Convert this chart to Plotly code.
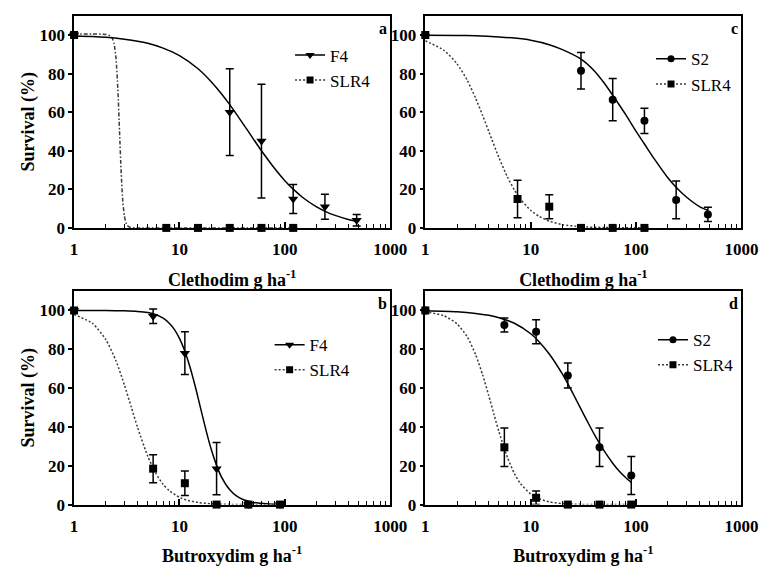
import plotly.graph_objects as go

FONT = "'Liberation Serif', 'Times New Roman', Times, serif"

# ---------------- data ----------------
cleth_doses = [1, 30, 60, 120, 240, 480]
cleth_slr_doses = [1, 7.5, 15, 30, 60, 120]
but_doses = [1, 5.625, 11.25, 22.5, 45, 90]

# panel a : clethodim, F4 vs SLR4
a_f4_surv = [100, 60, 45, 15, 11, 4]
a_f4_err = [0, 22.5, 29.5, 7.5, 6.5, 3]
a_slr_surv = [100, 0, 0, 0, 0, 0]
a_slr_err = [0, 0, 0, 0, 0, 0]
a_f4_fit_x = [1, 1.5, 2, 3, 4, 5, 7, 10, 15, 20, 25, 30, 40, 50, 60, 80, 100, 120, 150, 200, 250, 300, 400, 480]
a_f4_fit_y = [99.5, 99.2, 98.8, 97.8, 96.8, 95.7, 93.2, 89.3, 82.5, 75.8, 69.6, 63.9, 54.1, 46.3, 40.0, 30.8, 24.5, 20.1, 15.5, 10.9, 8.2, 6.5, 4.4, 3.4]
a_slr_fit_x = [1, 1.5, 2, 2.2, 2.3, 2.4, 2.5, 2.6, 2.7, 2.8, 2.9, 3.0, 3.1, 3.2, 3.4, 4, 7.5, 120]
a_slr_fit_y = [100.5, 100.5, 100.3, 99.5, 98.4, 95.3, 87.8, 72.4, 50, 28.3, 13.8, 6.3, 2.8, 1.3, 0.3, 0, 0, 0]

# panel c : clethodim, S2 vs SLR4
c_s2_surv = [100, 81.5, 66.5, 55.5, 14.5, 7]
c_s2_err = [0, 9.5, 11, 6.5, 9.8, 3.7]
c_slr_surv = [100, 15, 11, 0, 0, 0]
c_slr_err = [0, 9.7, 6.2, 0, 0, 0]
c_s2_fit_x = [1, 2, 3, 5, 7, 10, 15, 20, 30, 40, 50, 60, 80, 100, 120, 150, 200, 250, 300, 400, 480]
c_s2_fit_y = [99.9, 99.8, 99.6, 99.0, 98.4, 97.3, 95.0, 92.4, 87.5, 81.5, 75.0, 68.8, 58.6, 50.0, 43.5, 35.5, 26.0, 20.0, 16.0, 11.0, 9.0]
c_slr_fit_x = [1, 1.5, 2, 2.5, 3, 3.5, 4, 5, 6, 7, 8, 10, 12, 15, 20, 30, 50, 120]
c_slr_fit_y = [97.0, 92.1, 85.1, 76.5, 67.3, 58.3, 50.0, 36.4, 26.5, 19.7, 14.9, 9.1, 6.0, 3.5, 1.7, 0.6, 0.2, 0]

# panel b : butroxydim, F4 vs SLR4
b_f4_surv = [100, 97, 78, 18.5, 0, 0]
b_f4_err = [0, 3.7, 11, 13.5, 0, 0]
b_slr_surv = [100, 18.5, 11, 0, 0, 0]
b_slr_err = [0, 7.2, 6.3, 0, 0, 0]
b_f4_fit_x = [1, 2, 3, 4, 5, 6, 7, 8, 9, 10, 11, 12, 13, 14, 15, 16, 18, 20, 22.5, 25, 30, 35, 40, 50, 70, 90]
b_f4_fit_y = [100, 100, 99.8, 99.5, 98.9, 97.8, 96.0, 93.4, 90.0, 85.6, 80.4, 74.5, 68.2, 61.6, 55.1, 48.8, 37.6, 28.5, 20.2, 14.3, 7.6, 4.3, 2.6, 1.1, 0.3, 0.1]
b_slr_fit_x = [1, 1.5, 2, 2.5, 3, 3.5, 4, 5, 6, 7, 8, 10, 12, 15, 20, 30, 90]
b_slr_fit_y = [98.0, 93.3, 85.0, 74.0, 61.7, 50.0, 39.8, 24.9, 15.8, 10.4, 7.2, 3.7, 2.1, 1.1, 0.4, 0.1, 0]

# panel d : butroxydim, S2 vs SLR4
d_s2_surv = [100, 92.5, 89, 66.5, 29.5, 15]
d_s2_err = [0, 3.6, 6.2, 6.4, 9.9, 9.8]
d_slr_surv = [100, 29.5, 3.5, 0, 0, 0]
d_slr_err = [0, 9.9, 3.5, 0, 0, 0]
d_s2_fit_x = [1, 2, 3, 4, 5, 7, 10, 12, 15, 20, 25, 30, 35, 40, 50, 60, 70, 80, 90]
d_s2_fit_y = [99.8, 99.3, 98.5, 97.5, 96.3, 93.4, 88.0, 83.9, 77.6, 67.2, 57.6, 49.2, 42.2, 36.3, 27.5, 21.3, 16.9, 13.8, 11.4]
d_slr_fit_x = [1, 1.5, 2, 2.5, 3, 3.5, 4, 4.5, 5, 6, 7, 8, 10, 12, 15, 20, 30, 90]
d_slr_fit_y = [99.3, 97.3, 93.1, 86.4, 77.3, 66.8, 56.1, 46.1, 37.5, 24.4, 16.0, 10.8, 5.4, 3.0, 1.4, 0.5, 0.1, 0]

x_tick_vals = [1, 10, 100, 1000]
x_tick_text = ["1", "10", "100", "1000"]
y_tick_vals = [0, 20, 40, 60, 80, 100]

# ---------------- figure ----------------
panels = [
    dict(letter="a", ax="", legend="legend", herb="Clethodim", ylab=True,
         res="F4", res_sym="triangle-down", res_x=cleth_doses, res_y=a_f4_surv, res_e=a_f4_err,
         res_fx=a_f4_fit_x, res_fy=a_f4_fit_y,
         slr_x=cleth_slr_doses, slr_y=a_slr_surv, slr_e=a_slr_err,
         slr_fx=a_slr_fit_x, slr_fy=a_slr_fit_y, slr_dash="4px,2px,1.5px,2px"),
    dict(letter="c", ax="2", legend="legend2", herb="Clethodim", ylab=False,
         res="S2", res_sym="circle", res_x=cleth_doses, res_y=c_s2_surv, res_e=c_s2_err,
         res_fx=c_s2_fit_x, res_fy=c_s2_fit_y,
         slr_x=cleth_slr_doses, slr_y=c_slr_surv, slr_e=c_slr_err,
         slr_fx=c_slr_fit_x, slr_fy=c_slr_fit_y, slr_dash="2px,2px"),
    dict(letter="b", ax="3", legend="legend3", herb="Butroxydim", ylab=True,
         res="F4", res_sym="triangle-down", res_x=but_doses, res_y=b_f4_surv, res_e=b_f4_err,
         res_fx=b_f4_fit_x, res_fy=b_f4_fit_y,
         slr_x=but_doses, slr_y=b_slr_surv, slr_e=b_slr_err,
         slr_fx=b_slr_fit_x, slr_fy=b_slr_fit_y, slr_dash="2px,2px"),
    dict(letter="d", ax="4", legend="legend4", herb="Butroxydim", ylab=False,
         res="S2", res_sym="circle", res_x=but_doses, res_y=d_s2_surv, res_e=d_s2_err,
         res_fx=d_s2_fit_x, res_fy=d_s2_fit_y,
         slr_x=but_doses, slr_y=d_slr_surv, slr_e=d_slr_err,
         slr_fx=d_slr_fit_x, slr_fy=d_slr_fit_y, slr_dash="2px,2px"),
]

x_domains = {"": [0.0927, 0.5109], "2": [0.5573, 0.9755], "3": [0.0927, 0.5109], "4": [0.5573, 0.9755]}
y_domains = {"": [0.5901, 0.9717], "2": [0.5901, 0.9717], "3": [0.0925, 0.4765], "4": [0.0925, 0.4765]}
legend_pos = {"legend": (294, 38), "legend2": (665, 42), "legend3": (273, 333), "legend4": (667, 328)}

fig = go.Figure()
BLACK = "black"
SLR_COL = "#3a3a3a"
msize = {"triangle-down": 9, "circle": 8, "square": 8}

for p in panels:
    xa = "x" + p["ax"]
    ya = "y" + p["ax"]
    # fitted curves
    fig.add_trace(go.Scatter(x=p["slr_fx"], y=p["slr_fy"], mode="lines", xaxis=xa, yaxis=ya,
                             line=dict(color=SLR_COL, width=1.5, dash=p["slr_dash"], shape="spline", smoothing=0.6),
                             showlegend=False, hoverinfo="skip"))
    fig.add_trace(go.Scatter(x=p["res_fx"], y=p["res_fy"], mode="lines", xaxis=xa, yaxis=ya,
                             line=dict(color=BLACK, width=1.5, shape="spline", smoothing=0.6),
                             showlegend=False, hoverinfo="skip"))
    # observed points
    fig.add_trace(go.Scatter(x=p["res_x"], y=p["res_y"], mode="markers", xaxis=xa, yaxis=ya,
                             marker=dict(symbol=p["res_sym"], size=msize[p["res_sym"]], color=BLACK),
                             error_y=dict(type="data", array=p["res_e"], visible=True, color=BLACK,
                                          thickness=1.5, width=4),
                             cliponaxis=False, showlegend=False))
    fig.add_trace(go.Scatter(x=p["slr_x"], y=p["slr_y"], mode="markers", xaxis=xa, yaxis=ya,
                             marker=dict(symbol="square", size=8, color=BLACK),
                             error_y=dict(type="data", array=p["slr_e"], visible=True, color=BLACK,
                                          thickness=1.5, width=4),
                             cliponaxis=False, showlegend=False))
    # legend entries
    fig.add_trace(go.Scatter(x=[None], y=[None], mode="lines+markers", name=p["res"], xaxis=xa, yaxis=ya,
                             line=dict(color=BLACK, width=1.5),
                             marker=dict(symbol=p["res_sym"], size=msize[p["res_sym"]] - 1, color=BLACK),
                             legend=p["legend"], showlegend=True))
    fig.add_trace(go.Scatter(x=[None], y=[None], mode="lines+markers", name="SLR4", xaxis=xa, yaxis=ya,
                             line=dict(color=SLR_COL, width=1.5, dash="2px,2px"),
                             marker=dict(symbol="square", size=7, color=BLACK),
                             legend=p["legend"], showlegend=True))

    key = p["ax"]
    xaxis = dict(
        type="log", range=[0, 3], domain=x_domains[key], anchor=ya,
        tickvals=x_tick_vals, ticktext=x_tick_text,
        ticks="inside", ticklen=6, tickwidth=1.5, tickcolor=BLACK, ticklabelstandoff=5,
        minor=dict(ticks="inside", ticklen=4, tickwidth=1.2, tickcolor=BLACK,
                   tickvals=[m * 10 ** e for e in range(3) for m in range(2, 10)], showgrid=False),
        showline=True, linewidth=1.5, linecolor=BLACK, mirror=True,
        showgrid=False, zeroline=False,
        tickfont=dict(family=FONT, size=17, color=BLACK, weight="bold"),
        title=dict(text=p["herb"] + " g ha<sup>-1</sup>", standoff=15,
                   font=dict(family=FONT, size=18, color=BLACK, weight="bold")),
    )
    yaxis = dict(
        range=[0, 110], domain=y_domains[key], anchor=xa,
        tickvals=y_tick_vals, ticks="outside", ticklen=4, tickwidth=1.5, tickcolor=BLACK,
        showline=True, linewidth=1.5, linecolor=BLACK, mirror=True,
        showgrid=False, zeroline=False,
        tickfont=dict(family=FONT, size=17, color=BLACK, weight="bold"),
    )
    if p["ylab"]:
        yaxis["title"] = dict(text="Survival (%)", standoff=0,
                              font=dict(family=FONT, size=18, color=BLACK, weight="bold"))
    fig.update_layout(**{"xaxis" + key: xaxis, "yaxis" + key: yaxis})

    lx, ly = legend_pos[p["legend"]]
    fig.update_layout(**{p["legend"]: dict(
        x=lx / 777, y=1 - ly / 566, xanchor="left", yanchor="top",
        bgcolor="rgba(0,0,0,0)", borderwidth=0, itemwidth=30, tracegroupgap=0,
        font=dict(family=FONT, size=17, color=BLACK))})

    fig.add_annotation(text=p["letter"], xref="x" + key + " domain", yref="y" + key + " domain",
                       x=0.995, y=0.99, xanchor="right", yanchor="top", showarrow=False,
                       font=dict(family=FONT, size=16, color=BLACK, weight="bold"))

fig.update_layout(
    width=777, height=566, margin=dict(l=0, r=0, t=0, b=0),
    paper_bgcolor="white", plot_bgcolor="white",
    font=dict(family=FONT, color=BLACK),
)

fig.write_html("out.html")
